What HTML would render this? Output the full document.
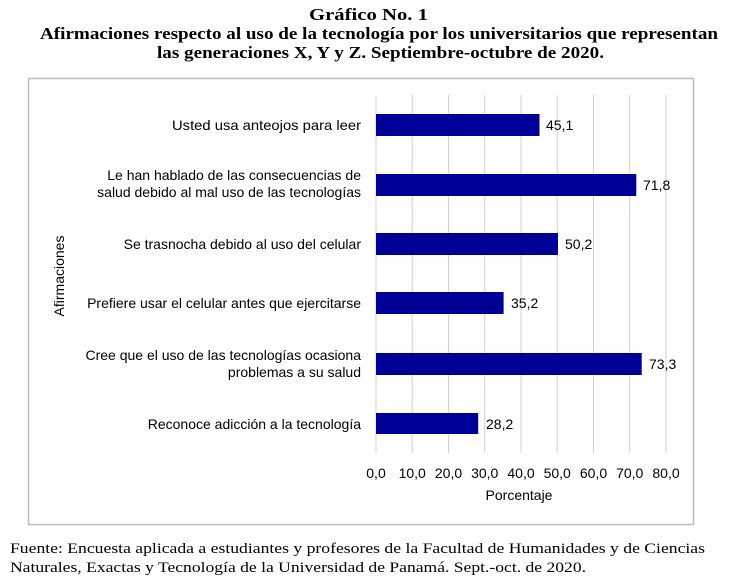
<!DOCTYPE html>
<html><head><meta charset="utf-8"><style>
body{margin:0;background:#fff;width:732px;height:581px;overflow:hidden}
</style></head><body>
<svg width="732" height="581" xmlns="http://www.w3.org/2000/svg">
<g font-family="Liberation Serif, serif" font-weight="bold" font-size="17" fill="#000" lengthAdjust="spacingAndGlyphs">
<text x="309" y="20" textLength="119" lengthAdjust="spacingAndGlyphs">Gráfico No. 1</text>
<text x="40" y="39" textLength="678" lengthAdjust="spacingAndGlyphs">Afirmaciones respecto al uso de la tecnología por los universitarios que representan</text>
<text x="157" y="58" textLength="447" lengthAdjust="spacingAndGlyphs">las generaciones X, Y y Z. Septiembre-octubre de 2020.</text>
</g>
<rect x="28.5" y="78.5" width="665" height="446" fill="#fff" stroke="#bdbdbd" stroke-width="1.5"/>
<g stroke="#d0d0d0" stroke-width="1">
<line x1="376" y1="95" x2="376" y2="453"/><line x1="412.2" y1="95" x2="412.2" y2="453"/>
<line x1="448.5" y1="95" x2="448.5" y2="453"/><line x1="484.7" y1="95" x2="484.7" y2="453"/>
<line x1="521" y1="95" x2="521" y2="453"/><line x1="557.2" y1="95" x2="557.2" y2="453"/>
<line x1="593.5" y1="95" x2="593.5" y2="453"/><line x1="629.7" y1="95" x2="629.7" y2="453"/>
<line x1="666" y1="95" x2="666" y2="453"/>
</g>
<g fill="#000099">
<rect x="376" y="114" width="163.5" height="22"/>
<rect x="376" y="174" width="260.3" height="22"/>
<rect x="376" y="233" width="182" height="22"/>
<rect x="376" y="292" width="127.6" height="22"/>
<rect x="376" y="353" width="265.7" height="22"/>
<rect x="376" y="413" width="102.2" height="21"/>
</g>
<g font-family="Liberation Sans, sans-serif" font-size="14" fill="#000">
<g text-anchor="end">
<text x="361" y="130" textLength="189" lengthAdjust="spacingAndGlyphs">Usted usa anteojos para leer</text>
<text x="361" y="180">Le han hablado de las consecuencias de</text>
<text x="361" y="197">salud debido al mal uso de las tecnologías</text>
<text x="361" y="249">Se trasnocha debido al uso del celular</text>
<text x="361" y="308">Prefiere usar el celular antes que ejercitarse</text>
<text x="361" y="360">Cree que el uso de las tecnologías ocasiona</text>
<text x="361" y="377">problemas a su salud</text>
<text x="361" y="429">Reconoce adicción a la tecnología</text>
</g>
<text x="546" y="130">45,1</text>
<text x="643" y="190">71,8</text>
<text x="565" y="249">50,2</text>
<text x="511" y="308">35,2</text>
<text x="649" y="369">73,3</text>
<text x="486" y="429">28,2</text>
<g text-anchor="middle">
<text x="376" y="478">0,0</text><text x="412.2" y="478">10,0</text><text x="448.5" y="478">20,0</text>
<text x="484.7" y="478">30,0</text><text x="521" y="478">40,0</text><text x="557.2" y="478">50,0</text>
<text x="593.5" y="478">60,0</text><text x="629.7" y="478">70,0</text><text x="666" y="478">80,0</text>
<text x="519" y="500">Porcentaje</text>
<text transform="translate(64,276) rotate(-90)">Afirmaciones</text>
</g>
</g>
<g font-family="Liberation Serif, serif" font-size="15" fill="#000">
<text x="10" y="553" textLength="695" lengthAdjust="spacingAndGlyphs">Fuente: Encuesta aplicada a estudiantes y profesores de la Facultad de Humanidades y de Ciencias</text>
<text x="10" y="572" textLength="576" lengthAdjust="spacingAndGlyphs">Naturales, Exactas y Tecnología de la Universidad de Panamá. Sept.-oct. de 2020.</text>
</g>
</svg>
</body></html>
